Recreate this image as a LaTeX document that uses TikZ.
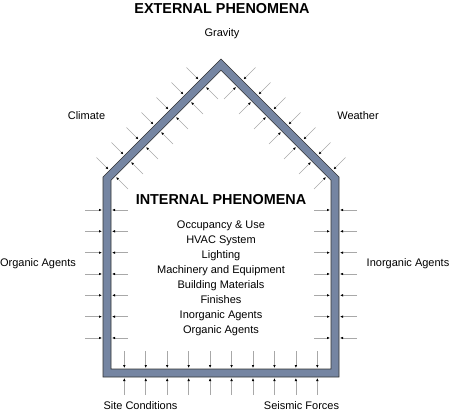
\documentclass[tikz,border=0pt]{standalone}
\usepackage{fontspec}
\setmainfont{Liberation Sans}
\usetikzlibrary{arrows.meta}
\definecolor{wallblue}{HTML}{7585A2}
\definecolor{shaftgray}{HTML}{A8A8A8}
\tikzset{
  lbl/.style={font=\fontsize{11}{13}\selectfont, anchor=base, inner sep=0pt},
  head/.style={font=\fontsize{14.4}{16}\selectfont\bfseries, anchor=base, inner sep=0pt},
  force/.style={draw=shaftgray, line width=0.6pt, -{Latex[black,length=3pt,width=2.6pt]}}
}
\begin{document}
\begin{tikzpicture}[x=1pt,y=-1pt]
\useasboundingbox (0,0) rectangle (450,414);

% the wall
\draw [fill=wallblue, draw=black!80, line width=0.6pt, even odd rule]
  (103,377) -- (103,177) -- (221,59) -- (339,177) -- (339,377) -- cycle
  (111,369) -- (111,180.3) -- (221,70.3) -- (331,180.3) -- (331,369) -- cycle;

% side walls
\foreach \y in {210,231.33,...,339} {
\draw [force] (85,\y) -- (102,\y);
\draw [force] (128,\y) -- (112,\y);
\draw [force] (357,\y) -- (340,\y);
\draw [force] (314,\y) -- (330,\y);}

% floor
\foreach \x in {124.3,145.75,...,318} {
\draw [force] (\x,351) -- (\x,368);
\draw [force] (\x,395) -- (\x,378);}

% roof
\foreach \u in {119,89,...,-61} {
\draw [force] ({(\u+254)/2},{(254-\u)/2}) -- ({(\u+278)/2},{(278-\u)/2});
\draw [force] ({(\u+317)/2},{(317-\u)/2}) -- ({(\u+293)/2},{(293-\u)/2});
\draw [force] ({442-(\u+254)/2},{(254-\u)/2}) -- ({442-(\u+278)/2},{(278-\u)/2});
\draw [force] ({442-(\u+317)/2},{(317-\u)/2}) -- ({442-(\u+293)/2},{(293-\u)/2});}

% labels
\node [head] (ext) at (222,13.5) {EXTERNAL PHENOMENA};
\node [lbl] (gravity) at (222,37) {Gravity};
\node [lbl] (climate) at (86.5,120) {Climate};
\node [lbl] (weather) at (358,120) {Weather};
\node [lbl] (organic) at (38,266.5) {Organic Agents};
\node [lbl] (inorganic) at (408,266.5) {Inorganic Agents};
\node [lbl] (site) at (140.5,409) {Site Conditions};
\node [lbl] (seismic) at (301.5,409) {Seismic Forces};

\node [head] (int) at (221,205) {INTERNAL PHENOMENA};
\foreach \t [count=\i] in {Occupancy \& Use, HVAC System, Lighting,
  Machinery and Equipment, Building Materials, Finishes,
  Inorganic Agents, Organic Agents} {
\node [lbl] (item\i) at (221,213.3+15*\i) {\t};}
\end{tikzpicture}
\end{document}
